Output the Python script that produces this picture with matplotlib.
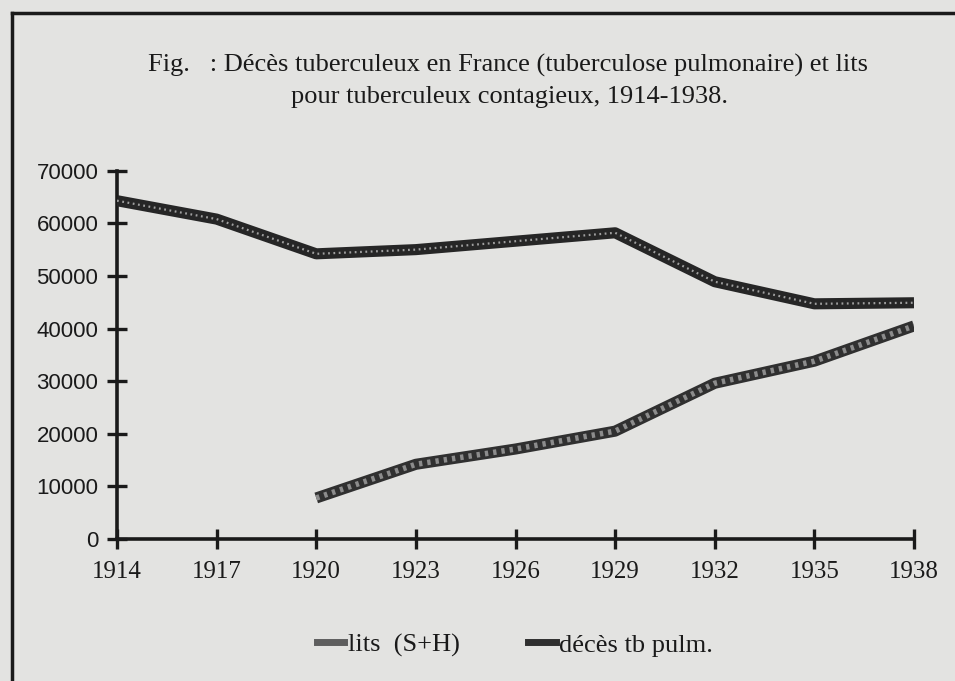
import matplotlib
matplotlib.use("Agg")
import matplotlib.pyplot as plt
from matplotlib.lines import Line2D

years = [1914, 1917, 1920, 1923, 1926, 1929, 1932, 1935, 1938]
deces = [64300, 60800, 54200, 55000, 56600, 58200, 48900, 44700, 44900]
lits_years = [1920, 1923, 1926, 1929, 1932, 1935, 1938]
lits = [7800, 14200, 17100, 20500, 29600, 33800, 40500]
yticks = [0, 10000, 20000, 30000, 40000, 50000, 60000, 70000]

title1 = "Fig.   : Décès tuberculeux en France (tuberculose pulmonaire) et lits"
title2 = "pour tuberculeux contagieux, 1914-1938."
label_lits = "lits  (S+H)"
label_deces = "décès tb pulm."

bg = "#e3e3e1"
ink = "#1a1a1a"
plt.rcParams['font.family'] = ['Liberation Serif', 'DejaVu Serif']

fig = plt.figure(figsize=(9.55, 6.81), dpi=100, facecolor=bg)
ax = fig.add_axes([117/955, 1-539/681, (914-117)/955, (539-170.7)/681])
ax.set_facecolor(bg)

# deaths line: dark base with light speckles
ax.plot(years, deces, color="#262626", lw=8, solid_joinstyle='round', solid_capstyle='butt', zorder=3)
ax.plot(years, deces, color="#a0a0a0", lw=1.6, ls=(0, (0.8, 1.6)), zorder=4)
# lits line: mid-grey speckled
ax.plot(lits_years, lits, color="#303030", lw=8, solid_joinstyle='round', solid_capstyle='butt', zorder=3)
ax.plot(lits_years, lits, color="#8c8c8c", lw=4, ls=(0, (0.6, 0.9)), zorder=4)

ax.set_xlim(1914, 1938)
ax.set_ylim(0, 70000)
ax.set_xticks(years)
ax.set_yticks(yticks)
ax.set_xticklabels([str(y) for y in years], fontsize=18)
ax.set_yticklabels([str(v) for v in yticks], fontsize=16, family=['Liberation Sans', 'DejaVu Sans'])
for s in ['top', 'right']:
    ax.spines[s].set_visible(False)
for s in ['left', 'bottom']:
    ax.spines[s].set_linewidth(2.6)
    ax.spines[s].set_color(ink)
ax.tick_params(axis='both', direction='inout', length=15, width=2.4, color=ink, labelcolor=ink)
ax.tick_params(axis='y', pad=6)
ax.tick_params(axis='x', pad=8)

fig.text(0.532, 1-65/681, title1, ha='center', va='center', fontsize=19, color=ink)
fig.text(0.533, 1-97/681, title2, ha='center', va='center', fontsize=19, color=ink)

h1 = Line2D([], [], color="#5e5e5e", lw=5)
h2 = Line2D([], [], color="#2f2f2f", lw=5)
leg = fig.legend([h1, h2], [label_lits, label_deces], loc='center', bbox_to_anchor=(0.539, 1-645/681),
                 ncol=2, frameon=False, fontsize=19, handlelength=1.05, handletextpad=0.12,
                 columnspacing=2.6)
for t in leg.get_texts():
    t.set_color(ink)

# page frame (left and top border)
fig.add_artist(Line2D([12/955, 12/955], [0, 1-13/681], transform=fig.transFigure, color=ink, lw=2.5))
fig.add_artist(Line2D([12/955, 1], [1-13/681, 1-13/681], transform=fig.transFigure, color=ink, lw=2.5))

fig.savefig("out.png", dpi=100, facecolor=bg)
